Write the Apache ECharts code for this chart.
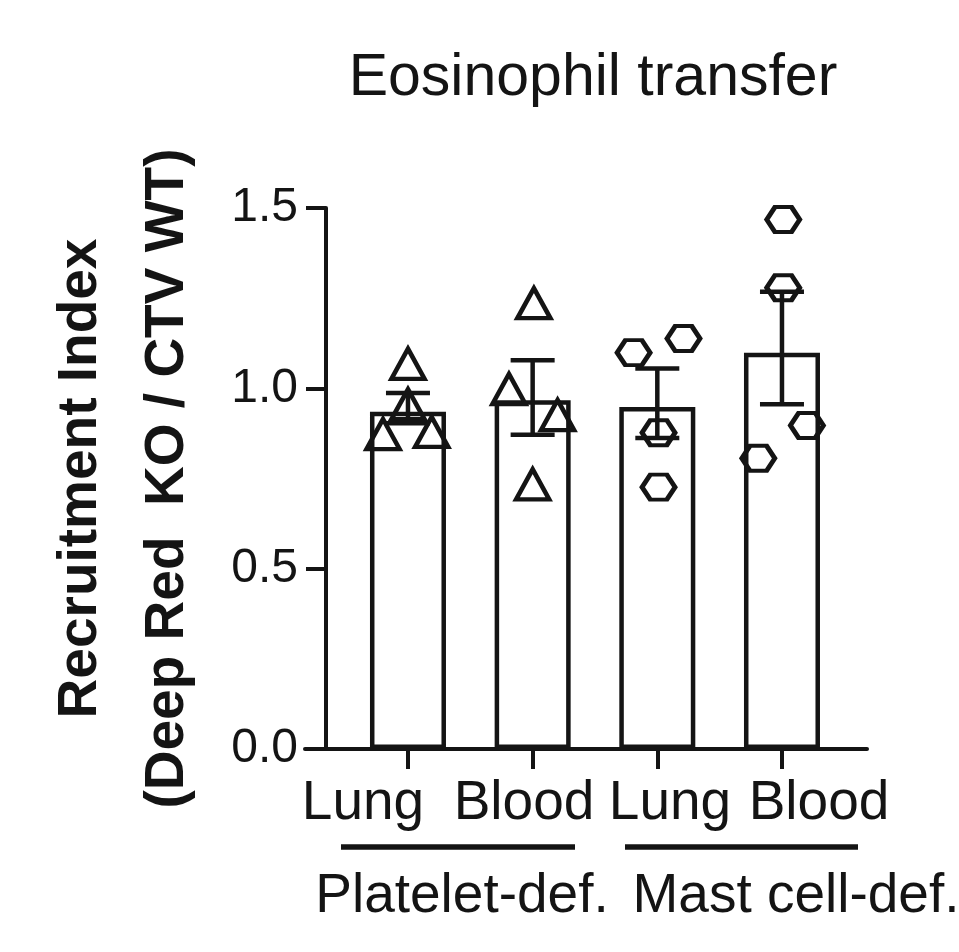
<!DOCTYPE html>
<html>
<head>
<meta charset="utf-8">
<title>Eosinophil transfer</title>
<script src="https://cdn.jsdelivr.net/npm/echarts@6/dist/echarts.min.js"></script>
<style>
  html, body { margin: 0; padding: 0; background: #fff; }
  #chart { width: 959px; height: 952px; }
</style>
</head>
<body>
<div id="chart"></div>
<script>
// data
const categories = ['Lung', 'Blood', 'Lung', 'Blood'];
const groups = ['Platelet-def.', 'Mast cell-def.'];
const groupPos = [1, 2, 3, 4];
const barMeans = [0.935, 0.967, 0.948, 1.099];
const errLow = [0.903, 0.871, 0.862, 0.956];
const errHigh = [0.987, 1.078, 1.055, 1.268];
const yTicks = [0, 0.5, 1.0, 1.5];

// individual points (triangles: platelet-def., hexagons: mast cell-def.)
const platLung = [1.068, 0.956, 0.873, 0.879];
const platLungJitter = [0, 0, -0.2, 0.19];
const platBlood = [1.236, 0.998, 0.926, 0.734];
const platBloodJitter = [0.01, -0.19, 0.2, 0];
const mastLung = [1.099, 1.138, 0.877, 0.726];
const mastLungJitter = [-0.19, 0.21, 0.01, 0.01];
const mastBlood = [1.468, 1.279, 0.897, 0.806];
const mastBloodJitter = [0.01, 0.01, 0.2, -0.19];

const ink = '#141414';
const font = '"Liberation Sans", Arial, Helvetica, sans-serif';

function pts(pos, vals, jit) {
  return vals.map((v, i) => [pos + jit[i], v]);
}

document.addEventListener('DOMContentLoaded', function() {
  const chart = echarts.init(document.getElementById('chart'));

  const hexagon = 'path://M0,12 L8,0 L24,0 L32,12 L24,24 L8,24 Z';
  const markerStyle = { color: 'rgba(0,0,0,0)', borderColor: ink, borderWidth: 4.5, opacity: 1 };

  const option = {
    animation: false,
    backgroundColor: '#fff',
    title: {
      text: 'Eosinophil transfer',
      left: 588,
      top: 44,
      textAlign: 'center',
      textStyle: { fontFamily: font, fontSize: 59, fontWeight: 'normal', color: ink }
    },
    grid: { left: 305, right: 92, top: 208, bottom: 203 },
    xAxis: {
      type: 'value',
      min: 0.174,
      max: 4.682,
      axisLine: { onZero: false, lineStyle: { color: ink, width: 4 } },
      axisTick: { show: true, customValues: groupPos, length: 20, lineStyle: { color: ink, width: 4 } },
      axisLabel: { show: false },
      splitLine: { show: false }
    },
    yAxis: {
      type: 'value',
      min: 0,
      max: 1.5,
      interval: 0.5,
      offset: -21,
      name: 'Recruitment Index\n(Deep Red  KO / CTV WT)',
      nameLocation: 'middle',
      nameRotate: 90,
      nameGap: 115,
      nameTextStyle: { fontFamily: font, fontSize: 55, fontWeight: 'bold', color: ink, lineHeight: 87 },
      axisLine: { show: true, onZero: false, lineStyle: { color: ink, width: 4 } },
      axisTick: { show: true, length: 20, lineStyle: { color: ink, width: 4 } },
      axisLabel: {
        margin: 28,
        fontFamily: font,
        fontSize: 48,
        color: ink,
        formatter: v => v.toFixed(1)
      },
      splitLine: { show: false }
    },
    series: [
      {
        type: 'bar',
        data: groupPos.map((p, i) => [p, barMeans[i]]),
        barWidth: 76,
        itemStyle: { color: '#fff', borderColor: ink, borderWidth: 4.5 },
        z: 2
      },
      {
        type: 'custom',
        data: groupPos.map((p, i) => [p, errLow[i], errHigh[i]]),
        renderItem: function(params, api) {
          const lo = api.coord([api.value(0), api.value(1)]);
          const hi = api.coord([api.value(0), api.value(2)]);
          const half = 22;
          const st = { stroke: ink, lineWidth: 4.5 };
          return {
            type: 'group',
            children: [
              { type: 'line', shape: { x1: lo[0], y1: lo[1], x2: hi[0], y2: hi[1] }, style: st },
              { type: 'line', shape: { x1: lo[0] - half, y1: lo[1], x2: lo[0] + half, y2: lo[1] }, style: st },
              { type: 'line', shape: { x1: hi[0] - half, y1: hi[1], x2: hi[0] + half, y2: hi[1] }, style: st }
            ]
          };
        },
        z: 3
      },
      {
        type: 'scatter',
        symbol: 'triangle',
        symbolSize: [33, 30],
        itemStyle: markerStyle,
        data: pts(groupPos[0], platLung, platLungJitter).concat(pts(groupPos[1], platBlood, platBloodJitter)),
        z: 4
      },
      {
        type: 'scatter',
        symbol: hexagon,
        symbolSize: [33, 25],
        itemStyle: markerStyle,
        data: pts(groupPos[2], mastLung, mastLungJitter).concat(pts(groupPos[3], mastBlood, mastBloodJitter)),
        z: 4
      }
    ],
    graphic: [
      // category labels under the axis
      { type: 'text', x: 363, y: 804, style: { text: categories[0], font: '55px ' + font, fill: ink, align: 'center', verticalAlign: 'middle' } },
      { type: 'text', x: 524, y: 804, style: { text: categories[1], font: '55px ' + font, fill: ink, align: 'center', verticalAlign: 'middle' } },
      { type: 'text', x: 670, y: 804, style: { text: categories[2], font: '55px ' + font, fill: ink, align: 'center', verticalAlign: 'middle' } },
      { type: 'text', x: 819, y: 804, style: { text: categories[3], font: '55px ' + font, fill: ink, align: 'center', verticalAlign: 'middle' } },
      // group brackets
      { type: 'line', shape: { x1: 341, y1: 847, x2: 575, y2: 847 }, style: { stroke: ink, lineWidth: 5.5 } },
      { type: 'line', shape: { x1: 625, y1: 847, x2: 858, y2: 847 }, style: { stroke: ink, lineWidth: 5.5 } },
      { type: 'text', x: 462, y: 897, style: { text: groups[0], font: '55px ' + font, fill: ink, align: 'center', verticalAlign: 'middle' } },
      { type: 'text', x: 796, y: 897, style: { text: groups[1], font: '55px ' + font, fill: ink, align: 'center', verticalAlign: 'middle' } }
    ]
  };

  chart.setOption(option);
  window.addEventListener('resize', function() {
    chart.resize();
  });
});
</script>
</body>
</html>
